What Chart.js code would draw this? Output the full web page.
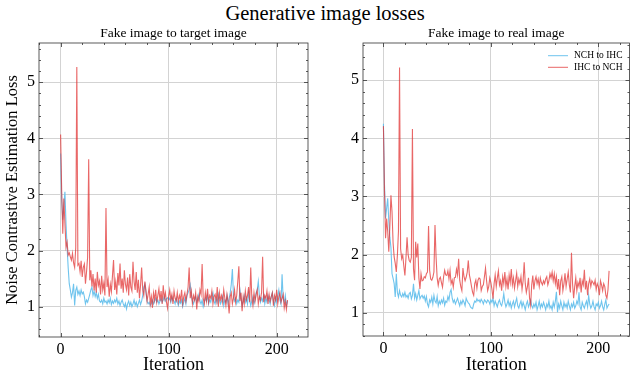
<!DOCTYPE html>
<html>
<head>
<meta charset="utf-8">
<script src="https://cdn.jsdelivr.net/npm/chart.js@4/dist/chart.umd.min.js"></script>
<style>
  body { margin: 0; background: #fff; }
  #wrap { position: relative; width: 632px; height: 376px; overflow: hidden; }
  #mainTitle { position: absolute; left: 0; top: 2px; width: 650px; text-align: center;
    font-family: "Liberation Serif", "DejaVu Serif", serif; font-size: 20.5px; color: #000; }
  .panel { position: absolute; top: 0; }
</style>
</head>
<body>
<div id="wrap">
  <div id="mainTitle">Generative image losses</div>
  <canvas id="leftChart" class="panel" width="316" height="376" style="left:0"></canvas>
  <canvas id="rightChart" class="panel" width="316" height="376" style="left:316px"></canvas>
</div>
<script>
"use strict";

// Iterations 0..210
const iterations = Array.from({length: 211}, (_, i) => i);
const seriesNames = ['NCH to IHC', 'IHC to NCH'];
const panelTitles = ['Fake image to target image', 'Fake image to real image'];
const xTickLabels = [0, 100, 200];
const yTickLabels = [1, 2, 3, 4, 5];

// Fake image to target image
const targetNchToIhc = [
  3.73, 2.90, 2.55, 2.80, 3.05, 2.48, 2.06, 1.70, 1.41, 1.30,
  1.17, 1.25, 1.41, 1.02, 1.29, 1.35, 1.22, 1.28, 1.20, 1.30,
  1.23, 1.26, 1.18, 1.05, 1.12, 1.08, 1.15, 1.22, 1.30, 1.35,
  1.20, 1.28, 1.18, 1.25, 1.15, 1.22, 1.10, 1.08, 1.12, 1.05,
  1.15, 1.08, 1.10, 1.05, 1.12, 1.07, 1.15, 1.04, 1.10, 1.06,
  1.12, 1.08, 1.15, 1.05, 1.10, 1.02, 1.08, 1.12, 1.05, 1.00,
  1.06, 0.96, 1.05, 1.10, 1.02, 1.08, 1.00, 1.05, 1.12, 1.03,
  1.08, 1.00, 1.06, 1.12, 1.04, 1.10, 1.20, 1.35, 1.40, 1.25,
  1.10, 1.05, 1.08, 1.02, 1.06, 1.12, 1.05, 1.10, 1.15, 1.08,
  1.12, 1.05, 1.10, 1.15, 1.08, 1.12, 1.18, 1.10, 1.14, 1.16,
  1.12, 1.15, 1.08, 1.18, 1.12, 1.10, 1.05, 1.15, 1.08, 1.02,
  1.10, 1.06, 1.12, 1.00, 1.08, 1.15, 1.05, 1.20, 1.25, 1.30,
  1.39, 1.20, 1.10, 1.05, 1.12, 1.18, 1.08, 1.15, 1.22, 1.10,
  1.05, 1.12, 1.00, 1.08, 1.15, 1.10, 1.20, 1.05, 1.12, 1.08,
  1.18, 1.25, 1.10, 1.05, 1.15, 1.08, 1.22, 1.12, 1.05, 1.10,
  1.18, 1.02, 1.12, 1.08, 1.20, 1.05, 1.15, 1.25, 1.40, 1.67,
  1.20, 1.10, 1.15, 1.05, 1.12, 1.08, 1.30, 1.15, 1.02, 1.10,
  1.20, 1.08, 1.15, 1.05, 1.25, 1.12, 1.02, 1.10, 1.18, 1.05,
  1.12, 1.25, 1.30, 1.45, 1.20, 1.08, 1.15, 1.10, 1.22, 1.05,
  1.15, 1.08, 1.20, 1.12, 1.05, 1.18, 1.25, 1.10, 1.02, 1.15,
  1.08, 1.20, 1.30, 1.12, 1.05, 1.58, 1.15, 1.08, 1.20, 1.02, 1.10
];
const targetIhcToNch = [
  4.07, 3.05, 2.30, 2.93, 2.48, 2.06, 2.15, 1.92, 1.96, 1.89,
  1.83, 1.95, 1.78, 1.70, 2.05, 5.27, 1.74, 1.77, 1.62, 1.82,
  1.53, 1.70, 1.76, 1.41, 1.62, 1.88, 3.63, 1.47, 1.65, 1.36,
  1.58, 1.29, 1.50, 1.25, 1.62, 1.38, 1.46, 1.22, 1.55, 1.30,
  1.42, 1.20, 2.76, 1.35, 1.48, 1.18, 1.40, 1.27, 1.55, 1.83,
  1.30, 1.45, 1.22, 1.60, 1.38, 1.77, 1.32, 1.50, 1.25, 1.65,
  1.40, 1.30, 1.52, 1.20, 1.58, 1.35, 1.28, 1.80, 1.45, 1.30,
  1.62, 1.25, 1.48, 1.15, 1.38, 1.70, 1.30, 1.20, 1.45, 1.29,
  1.10, 1.22, 1.35, 1.05, 1.18, 0.98, 1.25, 1.12, 1.30, 1.08,
  1.20, 1.32, 1.10, 1.28, 1.05, 1.38, 1.15, 1.25, 1.08, 0.97,
  1.18, 1.30, 1.12, 1.22, 1.05, 1.28, 1.15, 1.10, 1.25, 1.08,
  1.20, 1.12, 1.30, 1.05, 1.18, 1.25, 1.10, 1.22, 1.35, 1.70,
  1.15, 1.28, 1.05, 1.20, 1.12, 1.25, 0.95, 1.18, 1.10, 1.30,
  1.22, 1.76, 1.15, 1.05, 1.25, 1.10, 1.32, 1.08, 1.20, 1.15,
  1.28, 1.05, 1.18, 1.22, 1.10, 1.35, 1.00, 1.25, 1.12, 1.20,
  1.08, 1.30, 1.15, 1.02, 1.22, 1.10, 0.88, 1.18, 1.25, 1.05,
  1.15, 1.30, 1.08, 1.20, 1.45, 1.72, 1.10, 1.25, 0.92, 1.18,
  1.05, 1.28, 1.12, 1.20, 1.35, 1.08, 1.70, 1.15, 1.02, 1.25,
  1.10, 1.22, 1.30, 1.05, 1.18, 1.12, 1.25, 1.89, 1.08, 1.20,
  1.15, 1.28, 1.05, 1.22, 1.10, 1.18, 1.25, 1.02, 1.20, 1.12,
  1.30, 1.05, 1.18, 1.25, 1.08, 1.15, 1.22, 0.98, 1.10, 0.95, 1.12
];

// Fake image to real image
const realNchToIhc = [
  4.25, 3.20, 2.62, 2.80, 2.97, 2.58, 2.30, 2.12, 1.67, 1.59,
  1.50, 1.27, 1.67, 1.35, 1.27, 1.38, 1.30, 1.27, 1.33, 1.28,
  1.35, 1.27, 1.30, 1.25, 1.33, 1.35, 1.24, 1.30, 1.50, 1.25,
  1.33, 1.22, 1.30, 1.38, 1.24, 1.28, 1.30, 1.25, 1.29, 1.20,
  1.28, 1.15, 1.10, 1.22, 1.18, 1.27, 1.15, 1.30, 1.20, 1.17,
  1.28, 1.12, 1.20, 1.15, 1.22, 1.17, 1.25, 1.13, 1.20, 1.18,
  1.28, 1.22, 1.35, 1.40, 1.25, 1.18, 1.22, 1.15, 1.20, 1.25,
  1.18, 1.12, 1.20, 1.15, 1.22, 1.18, 1.12, 1.25, 1.20, 1.17,
  1.15, 1.10, 1.08, 1.07, 1.15, 1.20, 1.18, 1.24, 1.20, 1.22,
  1.18, 1.23, 1.20, 1.15, 1.22, 1.20, 1.17, 1.22, 1.20, 1.15,
  1.22, 1.18, 1.25, 1.12, 1.20, 1.15, 1.10, 1.18, 1.22, 1.15,
  1.12, 1.20, 1.33, 1.18, 1.10, 1.15, 1.22, 1.12, 1.18, 1.08,
  1.15, 1.20, 1.10, 1.18, 1.25, 1.12, 1.08, 1.15, 1.20, 1.10,
  1.18, 1.12, 1.05, 1.15, 1.20, 1.10, 1.15, 1.22, 1.12, 1.08,
  1.15, 1.10, 1.18, 1.05, 1.12, 1.20, 1.08, 1.15, 1.10, 1.18,
  1.12, 1.05, 1.15, 1.10, 1.20, 1.08, 1.12, 1.05, 1.18, 1.10,
  1.20, 1.36, 1.01, 1.15, 1.08, 1.20, 1.12, 1.05, 1.18, 1.10,
  1.15, 1.08, 1.20, 1.12, 1.05, 1.15, 1.10, 1.18, 1.08, 1.12,
  1.20, 1.15, 1.35, 1.10, 1.05, 1.18, 1.12, 1.08, 1.15, 1.20,
  1.10, 1.30, 1.15, 1.08, 1.12, 1.20, 1.10, 1.05, 1.15, 1.12,
  1.18, 1.08, 1.12, 1.20, 1.10, 1.05, 1.15, 1.22, 1.08, 1.12, 1.15
];
const realIhcToNch = [
  4.21, 3.10, 2.28, 2.62, 2.40, 2.05, 2.50, 3.02, 2.74, 2.20,
  1.96, 1.85, 1.70, 1.99, 2.40, 5.22, 2.10, 1.93, 1.99, 1.80,
  1.64, 1.95, 2.30, 2.00, 1.90, 1.87, 1.95, 4.16, 1.75, 1.56,
  2.22, 1.95, 2.19, 1.60, 1.41, 1.67, 1.55, 1.56, 1.62, 1.60,
  1.67, 1.70, 2.49, 1.73, 1.58, 1.56, 1.61, 1.70, 2.51, 1.96,
  1.60, 1.47, 1.58, 1.61, 1.52, 1.44, 1.62, 1.73, 1.65, 1.64,
  1.72, 1.58, 1.73, 1.50, 1.56, 1.44, 1.60, 1.61, 1.75, 1.65,
  1.93, 1.56, 1.45, 1.38, 1.77, 1.62, 1.55, 1.61, 1.70, 1.90,
  1.65, 1.56, 1.45, 1.35, 1.30, 1.50, 1.56, 1.42, 1.56, 1.60,
  1.58, 1.38, 1.45, 1.48, 1.62, 1.77, 1.55, 1.38, 1.45, 1.60,
  1.52, 1.40, 1.24, 1.50, 1.65, 1.45, 1.60, 1.72, 1.48, 1.55,
  1.38, 1.62, 1.50, 1.70, 1.45, 1.58, 1.40, 1.65, 1.52, 1.75,
  1.48, 1.60, 1.42, 1.55, 1.68, 1.45, 1.58, 1.50, 1.62, 1.40,
  1.55, 1.87, 1.50, 1.35, 1.45, 1.60, 1.25, 1.13, 1.48, 1.64,
  1.40, 1.55, 1.62, 1.50, 1.58, 1.45, 1.60, 1.52, 1.48, 1.55,
  1.50, 1.58, 1.62, 1.48, 1.55, 1.67, 1.60, 1.70, 1.55, 1.67,
  1.50, 1.62, 1.40, 1.58, 1.30, 1.55, 1.62, 1.38, 1.50, 1.68,
  1.45, 1.58, 1.70, 1.48, 1.35, 2.03, 1.50, 1.25, 1.45, 1.60,
  1.38, 1.52, 1.45, 1.60, 1.35, 1.55, 1.48, 1.74, 1.40, 1.55,
  1.30, 1.50, 1.58, 1.45, 1.55, 1.52, 1.48, 1.56, 1.40, 1.50,
  1.45, 1.30, 1.55, 1.48, 1.38, 1.50, 1.45, 1.30, 1.25, 1.40, 1.72
];

const BLUE = 'rgba(95,190,235,0.9)';
const RED = 'rgba(225,45,45,0.72)';
const SERIF = '"Liberation Serif", "DejaVu Serif", serif';

Chart.defaults.font.family = SERIF;
Chart.defaults.color = '#000';

// Inward ticks on all four sides, the axes frame and an optional legend inside the plot
const frameTicks = {
  id: 'frameTicks',
  afterDraw(chart, args, opts) {
    const {ctx, chartArea: a, scales: {x, y}} = chart;
    ctx.save();
    ctx.strokeStyle = '#333';
    ctx.lineWidth = 0.8;
    ctx.beginPath();
    for (let k = Math.ceil(x.min / 20); k <= Math.floor(x.max / 20); k++) {
      const px = Math.round(x.getPixelForValue(k * 20)) + 0.5;
      const len = k % 5 === 0 ? 4 : 2;
      ctx.moveTo(px, a.bottom); ctx.lineTo(px, a.bottom - len);
      ctx.moveTo(px, a.top); ctx.lineTo(px, a.top + len);
    }
    for (let k = Math.ceil(y.min * 5); k <= Math.floor(y.max * 5); k++) {
      const py = Math.round(y.getPixelForValue(k / 5)) + 0.5;
      const len = k % 5 === 0 ? 4 : 2;
      ctx.moveTo(a.left, py); ctx.lineTo(a.left + len, py);
      ctx.moveTo(a.right, py); ctx.lineTo(a.right - len, py);
    }
    ctx.stroke();
    ctx.strokeRect(a.left, a.top, a.right - a.left, a.bottom - a.top);

    if (opts.legend) {
      ctx.font = '9.5px ' + SERIF;
      ctx.textBaseline = 'middle';
      ctx.fillStyle = '#000';
      chart.data.datasets.forEach((ds, i) => {
        const ly = opts.legend.y + i * 11.6;
        ctx.strokeStyle = ds.borderColor;
        ctx.lineWidth = 1;
        ctx.beginPath();
        ctx.moveTo(opts.legend.x, ly);
        ctx.lineTo(opts.legend.x + 20, ly);
        ctx.stroke();
        ctx.fillText(ds.label, opts.legend.x + 26, ly);
      });
    }
    ctx.restore();
  }
};

const makePanel = (canvasId, cfg) => {
  new Chart(document.getElementById(canvasId), {
    type: 'line',
    data: {
      labels: iterations,
      datasets: [{
        label: seriesNames[0],
        data: cfg.blue,
        borderColor: BLUE,
        borderWidth: 1.1,
        pointRadius: 0,
        order: 1
      }, {
        label: seriesNames[1],
        data: cfg.red,
        borderColor: RED,
        borderWidth: 1.1,
        pointRadius: 0,
        order: 0
      }]
    },
    options: {
      responsive: false,
      animation: false,
      devicePixelRatio: 1,
      layout: { padding: { left: 0, right: cfg.padRight, top: 0, bottom: 0 } },
      plugins: {
        legend: { display: false },
        tooltip: { enabled: false },
        title: {
          display: true,
          text: cfg.title,
          fullSize: false,
          font: { size: 13.5, weight: 'normal', lineHeight: 1.2 },
          padding: { top: 25, bottom: 1.8 }
        },
        frameTicks: { legend: cfg.legend }
      },
      scales: {
        x: {
          type: 'linear',
          min: cfg.xMin,
          max: cfg.xMax,
          afterBuildTicks: (scale) => {
            scale.ticks = xTickLabels.map(v => ({ value: v }));
          },
          afterFit: (scale) => { scale.height = cfg.xHeight; },
          ticks: { font: { size: 16 }, padding: 3, maxRotation: 0, autoSkip: false },
          grid: { color: '#d3d3d3', lineWidth: 1, drawTicks: false },
          border: { display: false },
          title: { display: true, text: 'Iteration', font: { size: 18 }, padding: { top: 0, bottom: 0 } }
        },
        y: {
          type: 'linear',
          min: cfg.yMin,
          max: cfg.yMax,
          afterBuildTicks: (scale) => {
            scale.ticks = yTickLabels.map(v => ({ value: v }));
          },
          afterFit: (scale) => { scale.width = cfg.yWidth; },
          ticks: { font: { size: 16 }, padding: 4 },
          grid: { color: '#d3d3d3', lineWidth: 1, drawTicks: false },
          border: { display: false },
          title: {
            display: cfg.yTitle !== '',
            text: cfg.yTitle,
            font: { size: 16.5 },
            padding: { top: 3, bottom: 0 }
          }
        }
      }
    },
    plugins: [frameTicks]
  });
};

makePanel('leftChart', {
  title: panelTitles[0],
  blue: targetNchToIhc,
  red: targetIhcToNch,
  xMin: -20, xMax: 229,
  yMin: 0.46, yMax: 5.70,
  yWidth: 39, xHeight: 39, padRight: 8,
  yTitle: 'Noise Contrastive Estimation Loss',
  legend: null
});

makePanel('rightChart', {
  title: panelTitles[1],
  blue: realNchToIhc,
  red: realIhcToNch,
  xMin: -19, xMax: 229,
  yMin: 0.60, yMax: 5.64,
  yWidth: 47, xHeight: 40, padRight: 2.5,
  yTitle: '',
  legend: { x: 232, y: 55.7 }
});
</script>
</body>
</html>
